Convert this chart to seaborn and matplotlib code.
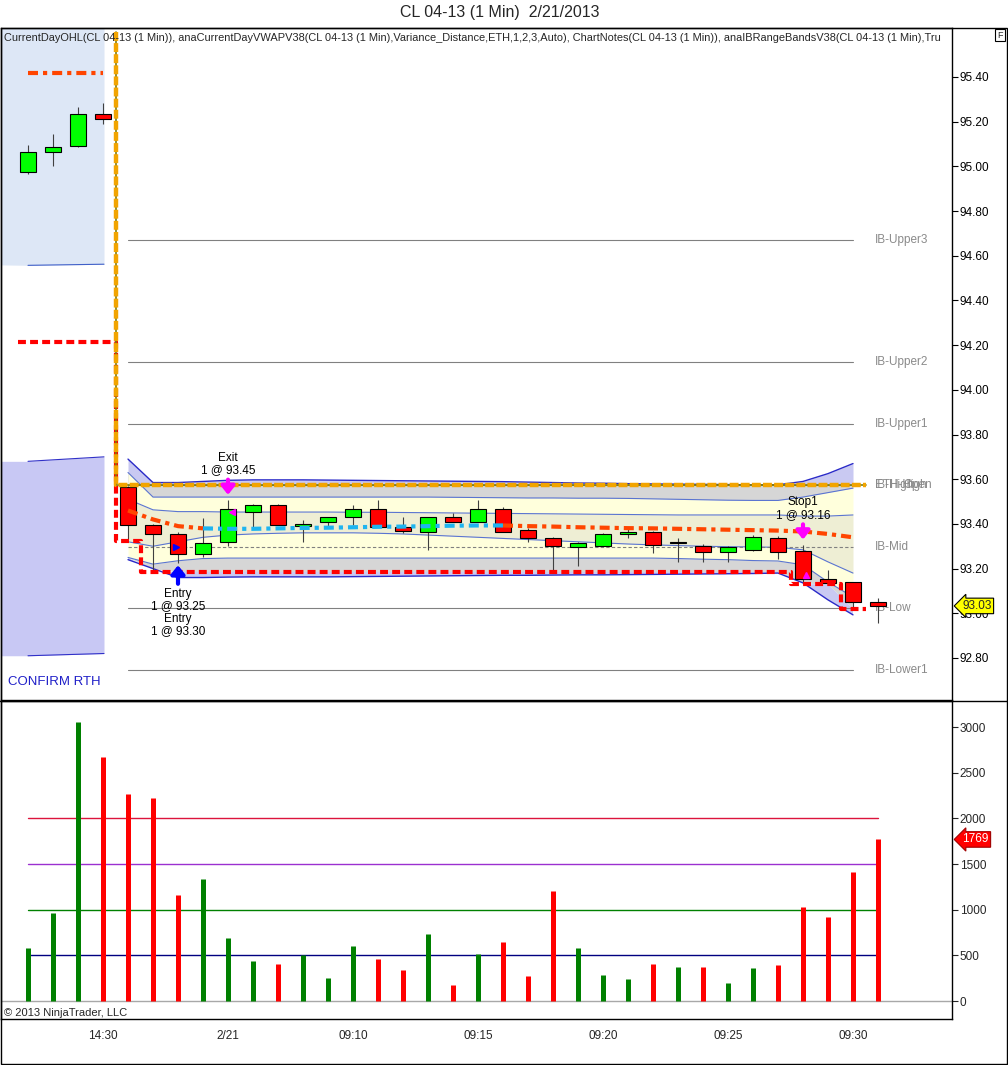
import numpy as np
import matplotlib
matplotlib.use("Agg")
import matplotlib.pyplot as plt
import matplotlib.transforms as mtransforms
from matplotlib.lines import Line2D
from matplotlib.patches import Rectangle
import seaborn as sns

# ---- data (one bar per minute, index 0..34) ----
opens = [94.975, 95.065, 95.09, 95.234, 93.565, 93.395, 93.355, 93.266, 93.32, 93.454,
         93.485, 93.39, 93.41, 93.43, 93.467, 93.387, 93.364, 93.43, 93.41, 93.467,
         93.373, 93.337, 93.297, 93.302, 93.355, 93.364, 93.315, 93.30, 93.275, 93.284,
         93.337, 93.279, 93.154, 93.14, 93.05]
highs = [95.095, 95.145, 95.266, 95.284, 93.57, 93.40, 93.364, 93.427, 93.507, 93.487,
         93.487, 93.418, 93.432, 93.485, 93.507, 93.43, 93.43, 93.449, 93.507, 93.475,
         93.38, 93.34, 93.32, 93.36, 93.38, 93.37, 93.336, 93.31, 93.30, 93.35,
         93.345, 93.306, 93.194, 93.14, 93.07]
lows = [94.966, 95.00, 95.087, 95.19, 93.33, 93.19, 93.225, 93.252, 93.30, 93.38,
        93.395, 93.32, 93.392, 93.395, 93.387, 93.36, 93.284, 93.41, 93.41, 93.364,
        93.32, 93.194, 93.212, 93.30, 93.337, 93.27, 93.23, 93.23, 93.23, 93.28,
        93.244, 93.132, 93.13, 93.03, 92.957]
closes = [95.065, 95.087, 95.235, 95.21, 93.395, 93.355, 93.266, 93.315, 93.467, 93.485,
          93.395, 93.40, 93.43, 93.467, 93.387, 93.37, 93.43, 93.41, 93.467, 93.364,
          93.337, 93.30, 93.315, 93.355, 93.364, 93.306, 93.317, 93.275, 93.297, 93.342,
          93.275, 93.154, 93.136, 93.05, 93.033]
volumes = [577, 967, 3058, 2671, 2266, 2223, 1160, 1336, 690, 441,
           405, 500, 255, 602, 463, 339, 733, 175, 515, 646,
           274, 1208, 584, 285, 241, 405, 376, 376, 193, 365,
           394, 1029, 920, 1412, 1769]

# VWAP and its bands for the session bars (index 4..33)
band_start = 4
vwap = [93.46, 93.42, 93.39, 93.38, 93.378, 93.378, 93.38, 93.382, 93.383, 93.385,
        93.387, 93.388, 93.39, 93.392, 93.393, 93.393, 93.39, 93.388, 93.385, 93.383,
        93.381, 93.38, 93.378, 93.376, 93.374, 93.372, 93.37, 93.366, 93.355, 93.34]
band_u3 = [93.69, 93.585, 93.585, 93.59, 93.595, 93.597, 93.597, 93.597, 93.596, 93.595,
           93.594, 93.593, 93.592, 93.591, 93.59, 93.589, 93.587, 93.585, 93.583, 93.582,
           93.58, 93.579, 93.578, 93.577, 93.576, 93.575, 93.575, 93.59, 93.625, 93.67]
band_u2 = [93.63, 93.52, 93.52, 93.52, 93.52, 93.52, 93.52, 93.52, 93.52, 93.52,
           93.52, 93.52, 93.52, 93.519, 93.518, 93.517, 93.516, 93.516, 93.515, 93.515,
           93.514, 93.512, 93.51, 93.508, 93.506, 93.505, 93.505, 93.52, 93.54, 93.56]
band_u1 = [93.51, 93.463, 93.455, 93.455, 93.453, 93.453, 93.453, 93.453, 93.453, 93.452,
           93.452, 93.451, 93.45, 93.449, 93.448, 93.447, 93.446, 93.445, 93.444, 93.443,
           93.442, 93.441, 93.44, 93.44, 93.44, 93.44, 93.44, 93.435, 93.435, 93.44]
band_m = [93.32, 93.30, 93.32, 93.34, 93.35, 93.355, 93.358, 93.36, 93.36, 93.36,
          93.358, 93.355, 93.35, 93.345, 93.34, 93.335, 93.33, 93.325, 93.32, 93.315,
          93.31, 93.306, 93.303, 93.30, 93.298, 93.297, 93.295, 93.284, 93.23, 93.18]
band_l2 = [93.25, 93.22, 93.235, 93.245, 93.247, 93.247, 93.247, 93.247, 93.247, 93.247,
           93.247, 93.247, 93.247, 93.247, 93.247, 93.247, 93.247, 93.247, 93.247, 93.247,
           93.247, 93.247, 93.245, 93.242, 93.24, 93.236, 93.234, 93.217, 93.14, 93.073]
band_l3 = [93.24, 93.2, 93.16, 93.16, 93.162, 93.163, 93.163, 93.163, 93.163, 93.164,
           93.165, 93.166, 93.167, 93.168, 93.169, 93.17, 93.17, 93.171, 93.172, 93.172,
           93.173, 93.174, 93.175, 93.176, 93.177, 93.178, 93.18, 93.136, 93.06, 92.993]
session_low = [93.25, 93.185, 93.185, 93.185, 93.185, 93.185, 93.185, 93.185, 93.185, 93.185,
               93.185, 93.185, 93.185, 93.185, 93.185, 93.185, 93.185, 93.185, 93.185, 93.185,
               93.185, 93.185, 93.185, 93.185, 93.185, 93.185, 93.185, 93.13, 93.13, 93.02]
cyan_from, cyan_to = 7, 19

# current day high / low step lines, prior session levels
day_high = 93.572
high_x = [3.52, 3.52, 33.5]
high_y = [95.60, day_high, day_high]
low_x = [-0.4, 3.52, 4.52, 30.5, 32.5, 33.5]
low_y = [94.215, 93.325, 93.185, 93.13, 93.02, 93.02]
prior_vwap_x = [0, 3]
prior_vwap_y = [95.418, 95.418]

# prior session shaded boxes
eth_x = [-1.1, 0, 3.04]
eth_upper_bottom = [94.559, 94.557, 94.562]
eth_lower_top = [93.68, 93.68, 93.70]
eth_lower_bottom = [92.81, 92.81, 92.82]

# initial balance levels
ib_names = ["IB-Upper3", "IB-Upper2", "IB-Upper1", "IB-High", "IB-Mid", "IB-Low", "IB-Lower1"]
ib_levels = [94.671, 94.125, 93.847, 93.574, 93.297, 93.024, 92.747]

tick_pos = [3, 8, 13, 18, 23, 28, 33]
tick_labels = ["14:30", "2/21", "09:10", "09:15", "09:20", "09:25", "09:30"]
vol_levels = [2000, 1500, 1000, 500]
vol_level_colors = ["#dc143c", "#9b30d0", "#008000", "#000080"]

sns.set_style("white")
plt.rcParams["font.family"] = ["Liberation Sans", "DejaVu Sans"]

fig = plt.figure(figsize=(10.08, 10.65), dpi=100)
W, H = 1008, 1065
ax = fig.add_axes([1 / W, 1 - 700 / H, 951 / W, 672 / H])
axv = fig.add_axes([1 / W, 1 - 1019 / H, 951 / W, 318 / H])

xlim = (-1.08, 36.96)
idx = np.arange(len(opens))
bx = np.arange(band_start, band_start + len(vwap))
u3, u2, u1 = np.array(band_u3), np.array(band_u2), np.array(band_u1)
m, l2, l3 = np.array(band_m), np.array(band_l2), np.array(band_l3)
lowb = np.array(session_low)

# ---- price panel ----
ax.fill_between(eth_x, eth_upper_bottom, 95.7, color="#dde7f6", lw=0, zorder=0)
ax.plot(eth_x[1:], eth_upper_bottom[1:], color="#4060c8", lw=0.8, zorder=1)
ax.fill_between(eth_x, eth_lower_bottom, eth_lower_top, color="#c8c8f4", lw=0, zorder=0)
ax.plot(eth_x[1:], eth_lower_top[1:], color="#3030c8", lw=0.8, zorder=1)
ax.plot(eth_x[1:], eth_lower_bottom[1:], color="#3030c8", lw=0.8, zorder=1)

ax.fill_between(bx, day_high, u3, where=u3 > day_high, interpolate=True, color="#c9c9f2", lw=0, zorder=1)
ax.fill_between(bx, u2, np.minimum(u3, day_high), color="#d6d6d6", lw=0, zorder=1)
ax.fill_between(bx, u1, u2, color="#ffffdc", lw=0, zorder=1)
ax.fill_between(bx, m, u1, color="#eeeed4", lw=0, zorder=1)
ax.fill_between(bx, l2, m, color="#ffffdc", lw=0, zorder=1)
ax.fill_between(bx, np.maximum(l3, lowb), l2, color="#d6d6d6", lw=0, zorder=1)
ax.fill_between(bx, l3, lowb, where=l3 < lowb, interpolate=True, color="#c9c9f2", lw=0, zorder=1)

for band, col, lw in [(u3, "#2a2ac8", 1.0), (u2, "#5a74d0", 0.8), (u1, "#5a74d0", 0.8),
                      (m, "#5a74d0", 0.8), (l2, "#5a74d0", 0.8), (l3, "#2a2ac8", 1.0)]:
    sns.lineplot(x=bx, y=band, color=col, lw=lw, ax=ax, zorder=2)

for name, lvl in zip(ib_names, ib_levels):
    ls = (0, (3, 2)) if name == "IB-Mid" else "-"
    ax.plot([band_start, 33], [lvl, lvl], color="#808080", lw=0.8, ls=ls, zorder=2)
    ax.text(33.88, lvl, name, color="#8a8a8a", fontsize=8.5, va="center", ha="left", zorder=2)
ax.text(33.88, day_high, "ETH-High", color="#8a8a8a", fontsize=8.5, va="center", ha="left")
ax.text(35.04, day_high, "Open", color="#8a8a8a", fontsize=8.5, va="center", ha="left")

# candles
body_lo = np.minimum(opens, closes)
body_h = np.abs(np.array(closes) - np.array(opens))
up = np.array(closes) >= np.array(opens)
ax.vlines(idx, lows, highs, color="#404040", lw=0.8, zorder=3)
ax.bar(idx, body_h, bottom=body_lo, width=0.64,
       color=np.where(up, "#00ff00", "#ff0000"), edgecolor="black", lw=0.8, zorder=3)

# day high / low and VWAP
ax.plot(low_x, low_y, drawstyle="steps-post", color="#ff0000", lw=3, dashes=(1.9, 1.0), zorder=4)
ax.plot(high_x, high_y, color="#7c7c10", lw=1.2, zorder=4)
ax.plot(high_x, high_y, color="#f2a400", lw=3.2, dashes=(2.0, 0.5), zorder=4)
dashdot = (2.4, 1.2, 1.0, 1.2)
ax.plot(prior_vwap_x, prior_vwap_y, color="#ff4500", lw=3, dashes=dashdot, zorder=4)
vw = np.array(vwap)
k0, k1 = cyan_from - band_start, cyan_to - band_start
ax.plot(bx[:k0 + 1], vw[:k0 + 1], color="#ff4500", lw=3, dashes=dashdot, zorder=4)
ax.plot(bx[k0:k1 + 1], vw[k0:k1 + 1], color="#1eb4f0", lw=3, dashes=dashdot, zorder=4)
ax.plot(bx[k1:], vw[k1:], color="#ff4500", lw=3, dashes=dashdot, zorder=4)

# trade markers
arrow_style = "-|>,head_length=0.5,head_width=0.4"
for (x0, y0, y1, col) in [(8, 93.598, 93.53, "#ff00ff"), (6, 93.132, 93.215, "#0000ff"),
                          (31, 93.398, 93.33, "#ff00ff")]:
    ax.annotate("", xy=(x0, y1), xytext=(x0, y0),
                arrowprops=dict(arrowstyle=arrow_style, color=col, lw=3, mutation_scale=10,
                                shrinkA=0, shrinkB=0), zorder=6)
ax.plot([5.9], [93.297], marker=">", color="#0000ff", ms=5, zorder=6)
ax.plot([8.15], [93.455], marker="<", color="#ff00ff", ms=5, zorder=6)
ax.plot([31.1], [93.17], marker="^", color="#ff00ff", ms=5, zorder=6)
note_kw = dict(fontsize=8.5, ha="center", va="center", color="black", zorder=6)
ax.text(8, 93.695, "Exit", **note_kw)
ax.text(8, 93.642, "1 @ 93.45", **note_kw)
ax.text(6, 93.087, "Entry", **note_kw)
ax.text(6, 93.033, "1 @ 93.25", **note_kw)
ax.text(6, 92.975, "Entry", **note_kw)
ax.text(6, 92.92, "1 @ 93.30", **note_kw)
ax.text(31, 93.498, "Stop1", **note_kw)
ax.text(31, 93.44, "1 @ 93.16", **note_kw)

ax.text(-0.78, 92.693, "CONFIRM RTH", color="#2020c8", fontsize=9.5, va="center", ha="left")
ax.text(0.003, 0.985, "CurrentDayOHL(CL 04-13 (1 Min)), anaCurrentDayVWAPV38(CL 04-13 (1 Min),"
        "Variance_Distance,ETH,1,2,3,Auto), ChartNotes(CL 04-13 (1 Min)), "
        "anaIBRangeBandsV38(CL 04-13 (1 Min),Tru", transform=ax.transAxes,
        fontsize=7.95, va="center", ha="left", clip_on=True, zorder=7)

ax.set_xlim(*xlim)
ax.set_ylim(92.612, 95.619)
ax.set_yticks(np.arange(92.8, 95.41, 0.2))
ax.set_yticklabels([f"{v:.2f}" for v in np.arange(92.8, 95.41, 0.2)])
ax.yaxis.tick_right()
ax.tick_params(axis="y", direction="out", length=4, width=0.8, pad=1.5, labelsize=8.5, colors="black")
ax.set_xticks([])
ax.set_xlabel("")
ax.set_ylabel("")
for s in ax.spines.values():
    s.set_color("black")
    s.set_linewidth(1)

blend = mtransforms.blended_transform_factory(ax.transAxes, ax.transData)
ax.text(1.011, closes[-1], f"{closes[-1]:.2f}", transform=blend, fontsize=8.5, va="center", ha="left",
        bbox=dict(boxstyle="larrow,pad=0.15", fc="#ffff00", ec="black", lw=0.8), zorder=8)

# ---- volume panel ----
axv.axhline(0, color="#a8a8a8", lw=1, zorder=1)
for lvl, col in zip(vol_levels, vol_level_colors):
    axv.plot([0, len(volumes) - 1], [lvl, lvl], color=col, lw=1, zorder=2)
axv.vlines(idx, 0, volumes, colors=np.where(up, "#008000", "#ff0000"), lw=3.6, zorder=3)
axv.set_xlim(*xlim)
axv.set_ylim(-197, 3285)
axv.set_yticks(range(0, 3001, 500))
axv.yaxis.tick_right()
axv.tick_params(axis="y", direction="out", length=4, width=0.8, pad=1.5, labelsize=8.5)
axv.set_xticks(tick_pos)
axv.set_xticklabels(tick_labels)
axv.tick_params(axis="x", direction="out", length=5, width=0.8, pad=3, labelsize=8.5)
for s in axv.spines.values():
    s.set_color("black")
    s.set_linewidth(1)
blendv = mtransforms.blended_transform_factory(axv.transAxes, axv.transData)
axv.text(0.003, -131, "\u00a9 2013 NinjaTrader, LLC", transform=blendv, fontsize=8, va="center", ha="left")
axv.text(1.011, volumes[-1], str(volumes[-1]), transform=blendv, fontsize=8.5, va="center", ha="left",
         color="white", bbox=dict(boxstyle="larrow,pad=0.15", fc="#ff0000", ec="#a00000", lw=0.8), zorder=8)

# ---- frame and title ----
fig.add_artist(Rectangle((0.5 / W, 1 - 1064 / H), 1006 / W, 1036 / H, transform=fig.transFigure,
                         fill=False, ec="black", lw=1))
fig.add_artist(Line2D([0, 1007 / W], [1 - 700.5 / H] * 2, transform=fig.transFigure, color="black", lw=1))
fig.text(500 / W, 1 - 13 / H, "CL 04-13 (1 Min)  2/21/2013", ha="center", va="center", fontsize=11.5,
         family=["Liberation Sans Narrow", "Liberation Sans", "DejaVu Sans"])
fig.text(1000 / W, 1 - 35 / H, "F", ha="center", va="center", fontsize=6.5,
         bbox=dict(boxstyle="square,pad=0.2", fc="white", ec="black", lw=0.8))

fig.savefig("out.png", dpi=100)
